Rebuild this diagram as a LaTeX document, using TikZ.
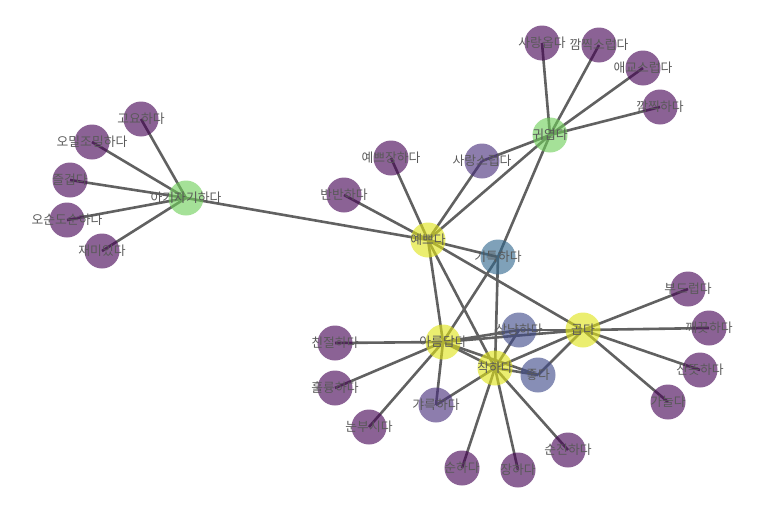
\documentclass[tikz,border=0pt]{standalone}
\usepackage{fontspec}
\setmainfont{Noto Sans CJK KR}
\usetikzlibrary{backgrounds}

\definecolor{vpurple}{HTML}{440154}
\definecolor{vlilac}{HTML}{472D7B}
\definecolor{vindigo}{HTML}{3E4989}
\definecolor{vblue}{HTML}{31688E}
\definecolor{vgreen}{HTML}{6ECE58}
\definecolor{vyellow}{HTML}{DFE318}

\tikzset{
  word/.style={circle, minimum size=35pt, inner sep=0pt, fill opacity=0.62, fill=vpurple},
  txt/.style={text=black!65, font=\fontsize{12.8}{14}\selectfont, inner sep=0pt},
  link/.style={draw=black!62, line width=2.6pt}
}

\begin{document}
\begin{tikzpicture}[x=1pt, y=-1pt]
\useasboundingbox (0,0) rectangle (773,506);

\node[word, fill=vgreen] (agi) at (186,198) {};
\node[word] (goyo) at (141,119) {};
\node[word] (omil) at (92,142) {};
\node[word] (jeul) at (70,180) {};
\node[word] (osun) at (67,220) {};
\node[word] (jaemi) at (102,251) {};
\node[word, fill=vyellow] (yeppeu) at (428,240) {};
\node[word] (banban) at (344,195) {};
\node[word] (yeppeujang) at (391,158) {};
\node[word, fill=vlilac] (sarangseu) at (482,161) {};
\node[word, fill=vgreen] (gwiyeop) at (550,135) {};
\node[word] (sarangop) at (542,43) {};
\node[word] (kkamjjikseu) at (599,45) {};
\node[word] (aegyo) at (643,68) {};
\node[word] (kkamjjik) at (660,107) {};
\node[word, fill=vblue] (giteuk) at (498,257) {};
\node[word, fill=vyellow] (areum) at (443,342) {};
\node[word, fill=vyellow] (chak) at (495,368) {};
\node[word, fill=vyellow] (gop) at (583,330) {};
\node[word, fill=vindigo] (sangnyang) at (519,330) {};
\node[word, fill=vindigo] (jo) at (538,375) {};
\node[word] (chinjeol) at (335,343) {};
\node[word] (hullyung) at (335,388) {};
\node[word] (nunbusi) at (369,427) {};
\node[word, fill=vlilac] (gyareuk) at (436,405) {};
\node[word] (sun) at (462,468) {};
\node[word] (jang) at (518,470) {};
\node[word] (sunjin) at (568,450) {};
\node[word] (budeureop) at (688,289) {};
\node[word] (kkaekkeut) at (709,328) {};
\node[word] (santteut) at (700,370) {};
\node[word] (ganeul) at (668,402) {};

\begin{scope}[on background layer]
\foreach \a/\b in {agi/goyo, agi/omil, agi/jeul, agi/osun, agi/jaemi, agi/yeppeu,
  yeppeu/banban, yeppeu/yeppeujang, yeppeu/sarangseu, yeppeu/gwiyeop, yeppeu/giteuk,
  yeppeu/gop, yeppeu/areum, yeppeu/chak,
  gwiyeop/sarangop, gwiyeop/kkamjjikseu, gwiyeop/aegyo, gwiyeop/kkamjjik,
  gwiyeop/sarangseu, gwiyeop/giteuk,
  giteuk/areum, giteuk/chak,
  areum/chinjeol, areum/hullyung, areum/nunbusi, areum/gyareuk, areum/chak,
  areum/gop, areum/sangnyang, areum/jo,
  chak/gyareuk, chak/sun, chak/jang, chak/sunjin, chak/jo, chak/gop, chak/sangnyang,
  gop/budeureop, gop/kkaekkeut, gop/santteut, gop/ganeul, gop/jo, gop/sangnyang}
  \draw[link] (\a.center) -- (\b.center);
\end{scope}

\node[txt] (agi-t) at (agi) {아기자기하다};
\node[txt] (goyo-t) at (goyo) {고요하다};
\node[txt] (omil-t) at (omil) {오밀조밀하다};
\node[txt] (jeul-t) at (jeul) {즐겁다};
\node[txt] (osun-t) at (osun) {오순도순하다};
\node[txt] (jaemi-t) at (jaemi) {재미있다};
\node[txt] (yeppeu-t) at (yeppeu) {예쁘다};
\node[txt] (banban-t) at (banban) {반반하다};
\node[txt] (yeppeujang-t) at (yeppeujang) {예쁘장하다};
\node[txt] (sarangseu-t) at (sarangseu) {사랑스럽다};
\node[txt] (gwiyeop-t) at (gwiyeop) {귀엽다};
\node[txt] (sarangop-t) at (sarangop) {사랑옵다};
\node[txt] (kkamjjikseu-t) at (kkamjjikseu) {깜찍스럽다};
\node[txt] (aegyo-t) at (aegyo) {애교스럽다};
\node[txt] (kkamjjik-t) at (kkamjjik) {깜찍하다};
\node[txt] (giteuk-t) at (giteuk) {기특하다};
\node[txt] (areum-t) at (areum) {아름답다};
\node[txt] (chak-t) at (chak) {착하다};
\node[txt] (gop-t) at (gop) {곱다};
\node[txt] (sangnyang-t) at (sangnyang) {상냥하다};
\node[txt] (jo-t) at (jo) {좋다};
\node[txt] (chinjeol-t) at (chinjeol) {친절하다};
\node[txt] (hullyung-t) at (hullyung) {훌륭하다};
\node[txt] (nunbusi-t) at (nunbusi) {눈부시다};
\node[txt] (gyareuk-t) at (gyareuk) {갸륵하다};
\node[txt] (sun-t) at (sun) {순하다};
\node[txt] (jang-t) at (jang) {장하다};
\node[txt] (sunjin-t) at (sunjin) {순진하다};
\node[txt] (budeureop-t) at (budeureop) {부드럽다};
\node[txt] (kkaekkeut-t) at (kkaekkeut) {깨끗하다};
\node[txt] (santteut-t) at (santteut) {산뜻하다};
\node[txt] (ganeul-t) at (ganeul) {가늘다};
\end{tikzpicture}
\end{document}
